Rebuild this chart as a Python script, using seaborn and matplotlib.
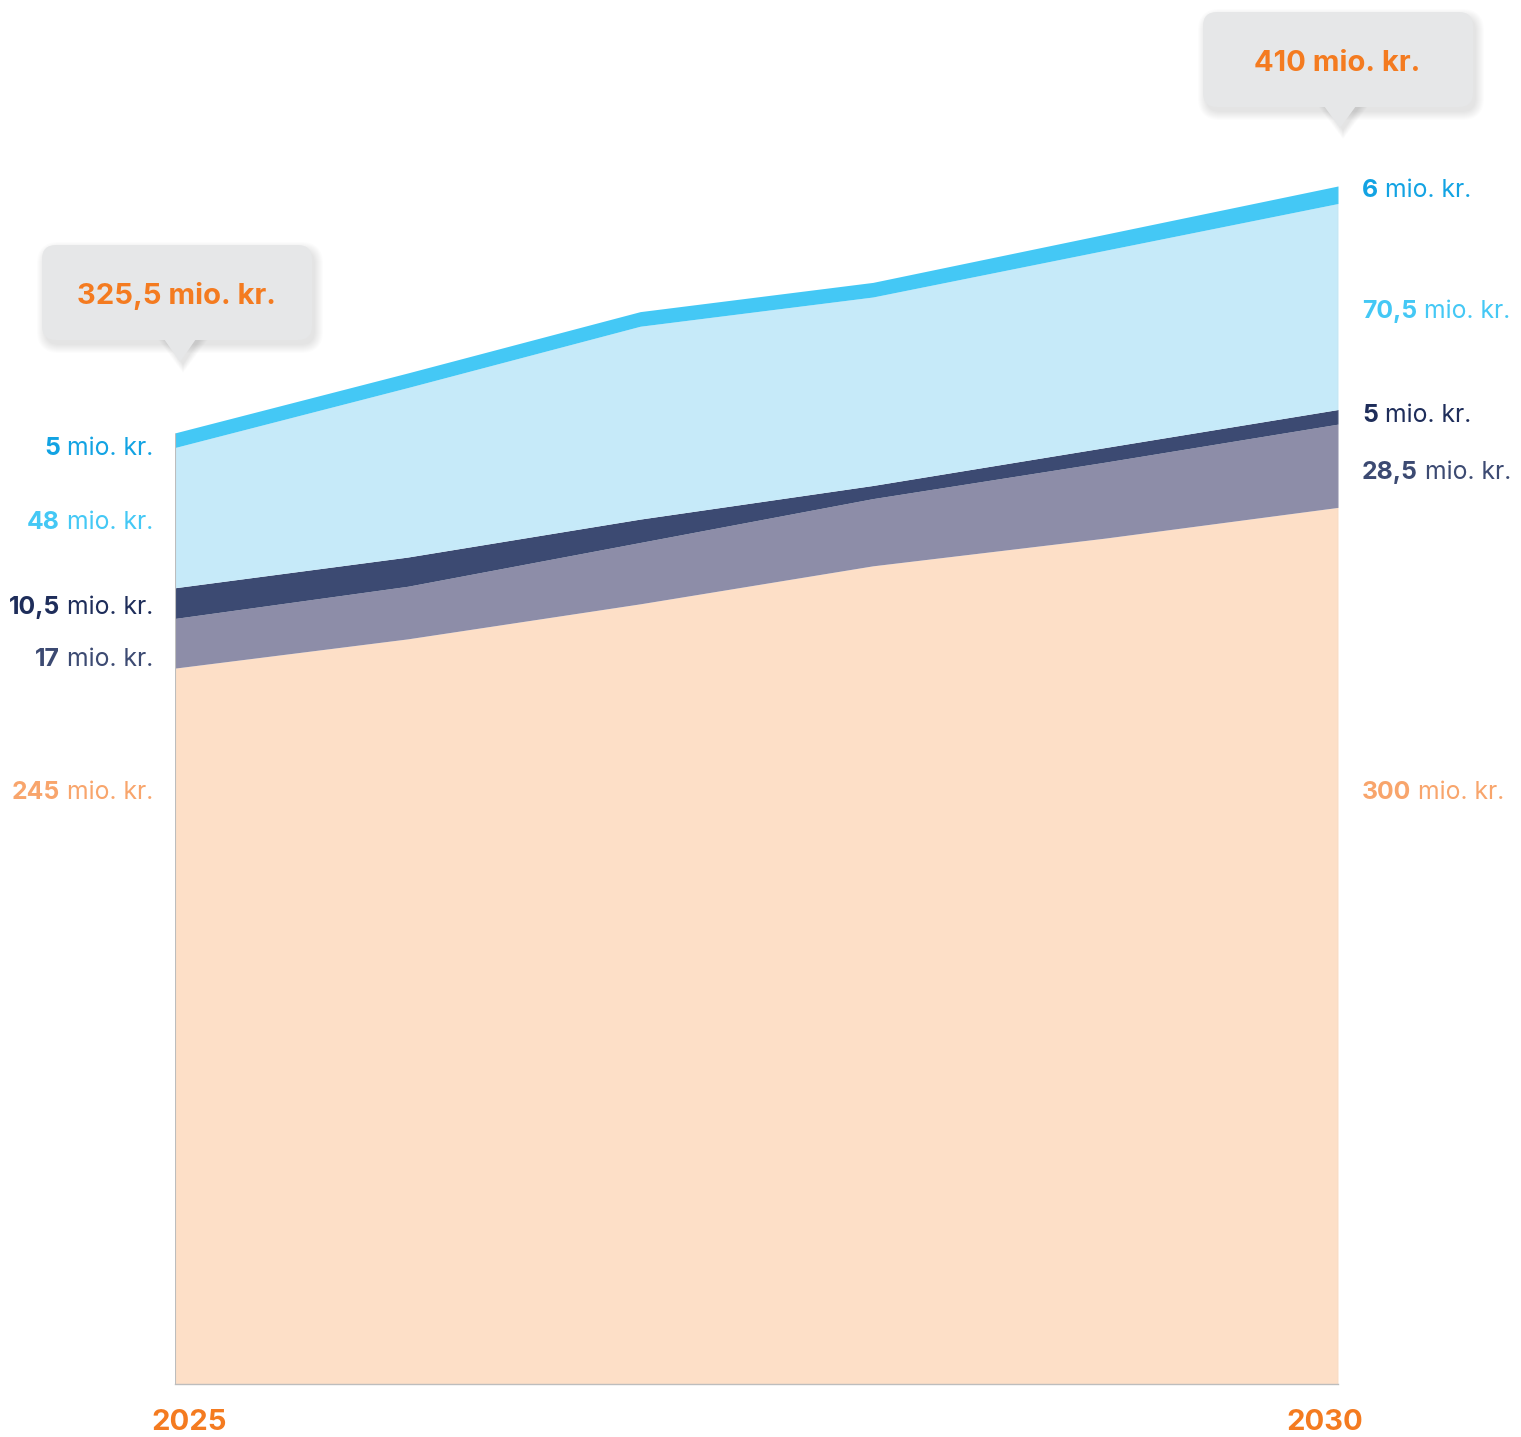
import matplotlib
matplotlib.use("Agg")
import matplotlib.pyplot as plt
import matplotlib.transforms as mtransforms
from matplotlib.patches import FancyBboxPatch, Polygon
import seaborn as sns

# data (mio. kr.), bottom layer first
years = [2025, 2026, 2027, 2028, 2029, 2030]
peach_vals = [245, 255, 267, 280, 289.5, 300]
gray_vals = [17, 18, 21, 23, 26, 28.5]
navy_vals = [10.5, 10, 8, 4.5, 5, 5]
lightblue_vals = [48, 58, 66, 64.5, 67.5, 70.5]
cyan_vals = [5, 5, 5, 5, 5.5, 6]

layer_colors = ["#FDDFC7", "#8D8DA8", "#3C4A72", "#C6EAF9", "#44C8F5"]
label_colors = ["#F8A56C", "#3C4A72", "#1E2D5A", "#44C8F5", "#12A3E3"]

W, H = 1521, 1437
sns.set_theme(style="white")
plt.rcParams['font.family'] = ['Inter', 'DejaVu Sans']

fig = plt.figure(figsize=(W / 100, H / 100), dpi=100)
ax = fig.add_axes([175 / W, (H - 1384) / H, (1338 - 175) / W, 1384 / H])

layers = [peach_vals, gray_vals, navy_vals, lightblue_vals, cyan_vals]
ax.stackplot(years, *layers, colors=layer_colors, linewidth=0)
totals = [sum(v) for v in zip(*layers)]

ax.set_xlim(2025, 2030)
ax.set_ylim(0, 1384 / 2.922)
ax.set_xticks([])
ax.set_yticks([])
for s in ["top", "left", "right"]:
    ax.spines[s].set_visible(False)
ax.spines["bottom"].set_color("#BDBDBD")
ax.spines["bottom"].set_linewidth(1)
ax.vlines([years[0], years[-1]], 0, [totals[0], totals[-1]], color="#BDBDBD", lw=0.8, zorder=3)


def fmt(v):
    s = f"{v:g}"
    return s.replace(".", ",")


fig.canvas.draw()
renderer = fig.canvas.get_renderer()
FS = 17.8
GAP = 7

# label heights (data units) at each side
left_y = [202.3, 248.1, 265.6, 294.7, 320.3]
right_y = [202.3, 311.8, 331.3, 366.9, 408.6]

for vals, col, ly, ry in zip(layers, label_colors, left_y, right_y):
    # left side: right aligned
    t = ax.annotate("mio. kr.", xy=(years[0], ly), xytext=(-22, 0), textcoords="offset pixels",
                    ha="right", va="center", fontsize=FS, color=col, annotation_clip=False)
    w = t.get_window_extent(renderer).width
    ax.annotate(fmt(vals[0]), xy=(years[0], ly), xytext=(-22 - w - GAP, 0), textcoords="offset pixels",
                ha="right", va="center", fontsize=FS, color=col, fontweight="bold", annotation_clip=False)
    # right side: left aligned
    t = ax.annotate(fmt(vals[-1]), xy=(years[-1], ry), xytext=(24, 0), textcoords="offset pixels",
                    ha="left", va="center", fontsize=FS, color=col, fontweight="bold", annotation_clip=False)
    w = t.get_window_extent(renderer).width
    ax.annotate("mio. kr.", xy=(years[-1], ry), xytext=(24 + w + GAP, 0), textcoords="offset pixels",
                ha="left", va="center", fontsize=FS, color=col, annotation_clip=False)

# year labels
orange = "#F47B20"
ax.annotate(str(years[0]), xy=(years[0], 0), xytext=(14, -39), textcoords="offset pixels",
            ha="center", va="center", fontsize=21, fontweight="bold", color=orange, annotation_clip=False)
ax.annotate(str(years[-1]), xy=(years[-1], 0), xytext=(-13, -39), textcoords="offset pixels",
            ha="center", va="center", fontsize=21, fontweight="bold", color=orange, annotation_clip=False)

# callout boxes (pixel layout, top-left origin)
ident = mtransforms.IdentityTransform()


def callout(x0, y0, x1, y1, tipx, tipy, text):
    bw, bh = x1 - x0, y1 - y0
    # soft shadow, built up from faint widening layers
    for k in range(9):
        e = k * 2.0
        sh = FancyBboxPatch((x0 + 3 - e / 2, H - y1 - 5 - e / 2), bw + e, bh + e,
                            boxstyle=f"round,pad=0,rounding_size={14 + e / 2}",
                            transform=ident, facecolor="#000000", edgecolor="none", alpha=0.012)
        fig.add_artist(sh)
        tri_s = Polygon([(tipx - 18 - e / 2 + 3, H - y1 + 2), (tipx + 18 + e / 2 + 3, H - y1 + 2),
                         (tipx + 3, H - tipy - 3 - e / 2)],
                        closed=True, transform=ident, facecolor="#000000", edgecolor="none", alpha=0.012)
        fig.add_artist(tri_s)
    box = FancyBboxPatch((x0, H - y1), bw, bh, boxstyle="round,pad=0,rounding_size=14",
                         transform=ident, facecolor="#E6E7E8", edgecolor="none")
    fig.add_artist(box)
    tri = Polygon([(tipx - 16, H - y1 + 1), (tipx + 16, H - y1 + 1), (tipx, H - tipy)],
                  closed=True, transform=ident, facecolor="#E6E7E8", edgecolor="none", joinstyle="round")
    fig.add_artist(tri)
    fig.text((x0 + x1) / 2 / W - 1 / W, 1 - ((y0 + y1) / 2 + 4) / H, text, ha="center", va="center",
             fontsize=21, fontweight="bold", color=orange)


callout(42, 245, 312, 340, 180, 362, f"{fmt(totals[0])} mio. kr.")
callout(1203, 12, 1473, 107, 1340, 128, f"{fmt(totals[-1])} mio. kr.")

fig.savefig("out.png", dpi=100)
